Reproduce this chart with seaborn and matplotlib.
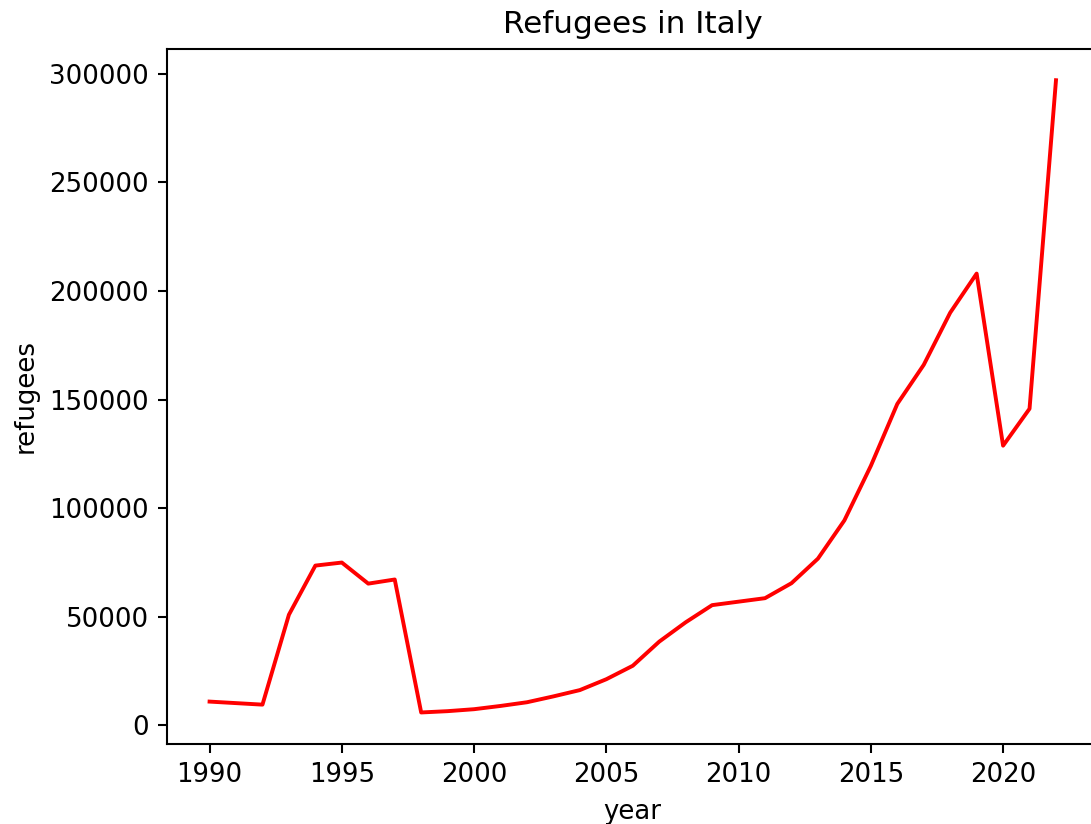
import seaborn as sns
from matplotlib import pyplot as plt
import pandas as pd

# values
years = list(range(1990, 2023))
refugees = [
    11000, 10300, 9600, 51000, 73600, 75000, 65300, 67200, 6000, 6600,
    7500, 9000, 10700, 13400, 16300, 21300, 27500, 38600, 47500, 55400,
    57000, 58600, 65500, 76800, 94400, 119500, 148000, 166000, 190000, 208000,
    128800, 145800, 297000,
]

df = pd.DataFrame({"year": years, "refugees": refugees})

dpi = 187
fig, ax = plt.subplots(figsize=(1091 / dpi, 824 / dpi), dpi=dpi)
# the reference is cropped on the right, so the right spine falls off the canvas
fig.subplots_adjust(left=0.1533, right=1.0067, top=0.941, bottom=0.097)

sns.lineplot(data=df, x="year", y="refugees", color="red", ax=ax)
ax.set_title("Refugees in Italy")

plt.savefig("out.png", dpi=dpi)
